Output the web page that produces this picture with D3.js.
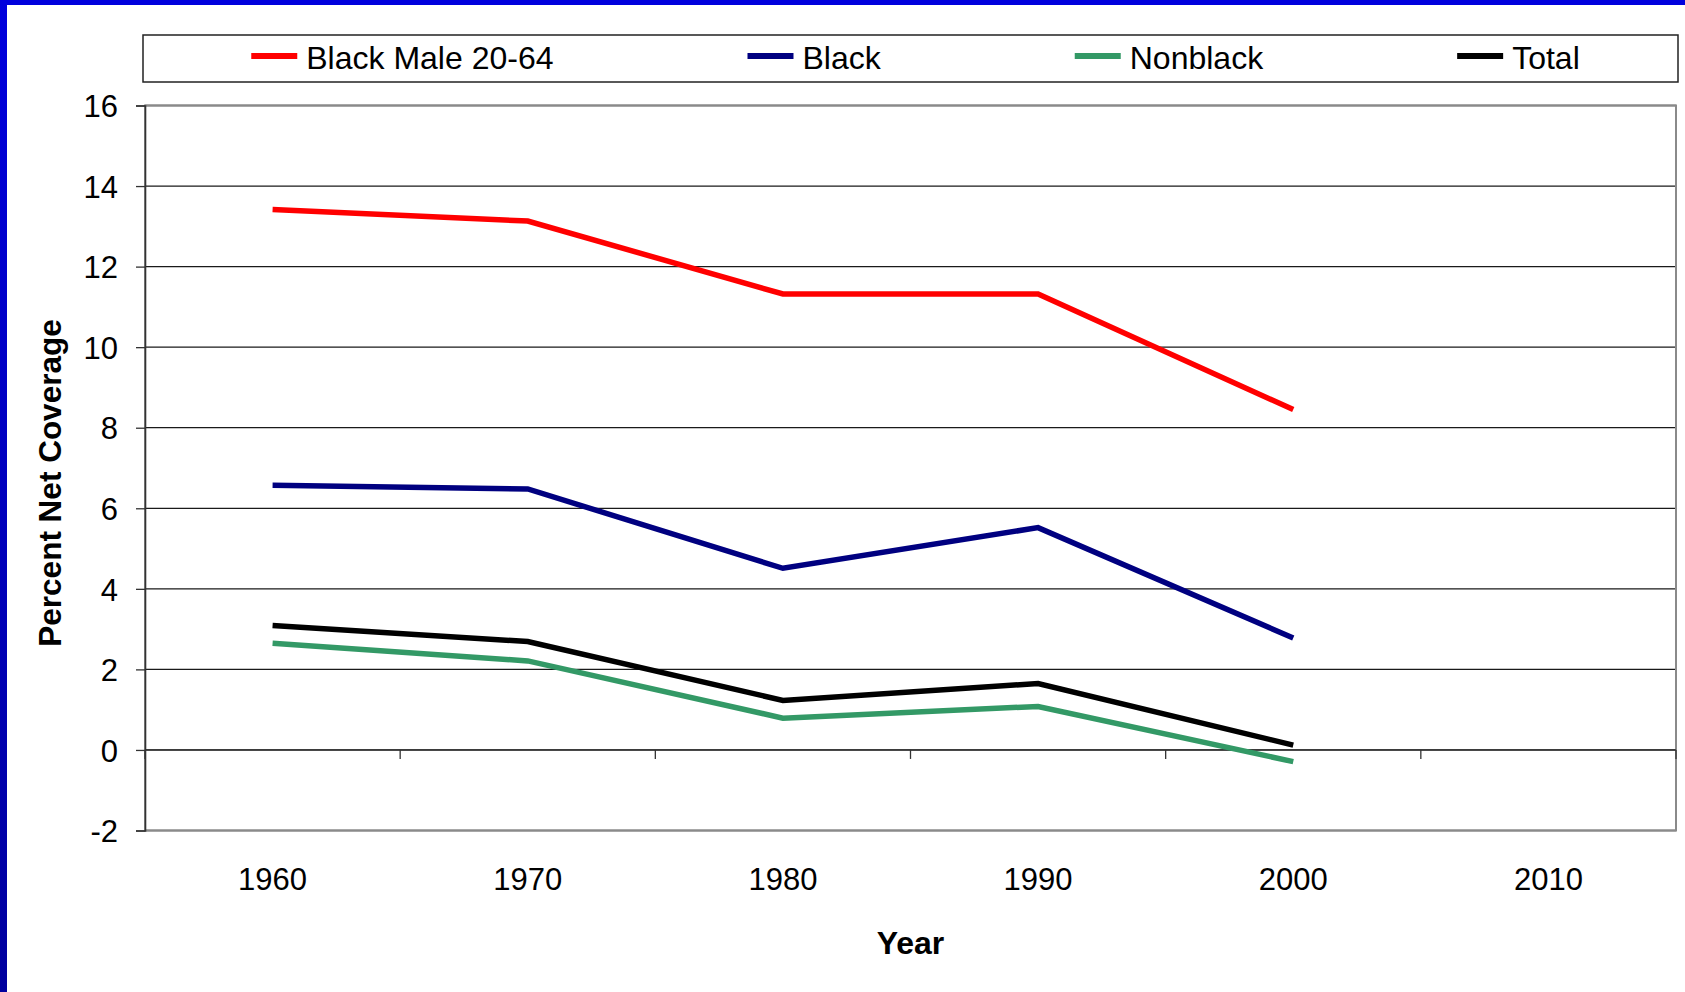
<!DOCTYPE html>
<html>
<head>
  <meta charset="utf-8" />
  <title>Percent Net Coverage</title>
  <style type="text/css">
    body {
      margin: 0;
      background: #fff;
      font-family: 'Liberation Sans', Arial, sans-serif;
    }
    svg { display: block; }
    .tick text { font-family: 'Liberation Sans', Arial, sans-serif; fill: #000; }
  </style>
</head>
<body>

  <div id="chart"></div>

  <script src="https://cdn.jsdelivr.net/npm/d3@7"></script>
  <script>
  // chart data
  var years = ['1960', '1970', '1980', '1990', '2000', '2010'];
  var seriesNames = ['Black Male 20-64', 'Black', 'Nonblack', 'Total'];
  var blackMale = [13.42, 13.13, 11.32, 11.32, 8.45];
  var black = [6.57, 6.48, 4.51, 5.52, 2.78];
  var nonblack = [2.65, 2.21, 0.79, 1.08, -0.29];
  var total = [3.09, 2.69, 1.23, 1.65, 0.12];
  var yTicks = [-2, 0, 2, 4, 6, 8, 10, 12, 14, 16];

  var colors = ['#ff0000', '#000080', '#339966', '#000000'];
  var allSeries = [blackMale, black, nonblack, total];

  var width = 1685, height = 992;
  var margin = {top: 105.5, right: 9, bottom: 161.5, left: 145};
  var plotW = width - margin.left - margin.right;
  var plotH = height - margin.top - margin.bottom;

  var svg = d3.select('#chart').append('svg')
    .attr('width', width)
    .attr('height', height);

  // slide frame (blue bar on top and left)
  var defs = svg.append('defs');
  var grad = defs.append('linearGradient')
    .attr('id', 'sideBlue')
    .attr('x1', 0).attr('y1', 0).attr('x2', 0).attr('y2', 1);
  grad.append('stop').attr('offset', '0%').attr('stop-color', '#0000dd');
  grad.append('stop').attr('offset', '100%').attr('stop-color', '#00009e');

  svg.append('rect').attr('x', 0).attr('y', 0).attr('width', width).attr('height', height).attr('fill', '#fff');
  svg.append('rect').attr('x', 0).attr('y', 0).attr('width', width).attr('height', 5).attr('fill', '#0000dd');
  svg.append('rect').attr('x', 0).attr('y', 0).attr('width', 7).attr('height', height).attr('fill', 'url(#sideBlue)');

  var x = d3.scaleBand().domain(years).range([margin.left, margin.left + plotW]).padding(0);
  var y = d3.scaleLinear().domain([-2, 16]).range([margin.top + plotH, margin.top]);

  // horizontal gridlines
  svg.append('g')
    .selectAll('line')
    .data(yTicks)
    .enter()
    .append('line')
    .attr('x1', margin.left)
    .attr('x2', margin.left + plotW)
    .attr('y1', function (d) { return y(d); })
    .attr('y2', function (d) { return y(d); })
    .attr('stroke', '#1a1a1a')
    .attr('stroke-width', 1.3);

  // plot border
  svg.append('rect')
    .attr('x', margin.left)
    .attr('y', margin.top)
    .attr('width', plotW)
    .attr('height', plotH)
    .attr('fill', 'none')
    .attr('stroke', '#8a8a8a')
    .attr('stroke-width', 2);

  // y axis
  var yAxis = svg.append('g')
    .attr('transform', 'translate(' + margin.left + ',0)')
    .call(d3.axisLeft(y).tickValues(yTicks).tickSize(9).tickPadding(18)
      .tickFormat(function (d) { return String(d); }));
  yAxis.select('.domain').attr('stroke', '#333').attr('stroke-width', 1.6);
  yAxis.selectAll('.tick line').attr('stroke', '#333').attr('stroke-width', 1.3);
  yAxis.selectAll('.tick text').attr('font-size', '31px').attr('dy', '0.36em');

  // x axis on the zero line, ticks between categories
  var boundaries = years.map(function (d) { return x(d); }).concat([x(years[years.length - 1]) + x.bandwidth()]);
  svg.append('line')
    .attr('x1', margin.left).attr('x2', margin.left + plotW)
    .attr('y1', y(0)).attr('y2', y(0))
    .attr('stroke', '#333').attr('stroke-width', 1.6);
  svg.append('g')
    .selectAll('line')
    .data(boundaries)
    .enter()
    .append('line')
    .attr('x1', function (d) { return d; })
    .attr('x2', function (d) { return d; })
    .attr('y1', y(0))
    .attr('y2', y(0) + 9)
    .attr('stroke', '#333')
    .attr('stroke-width', 1.3);

  svg.append('g')
    .selectAll('text')
    .data(years)
    .enter()
    .append('text')
    .attr('x', function (d) { return x(d) + x.bandwidth() / 2; })
    .attr('y', 890)
    .attr('text-anchor', 'middle')
    .attr('font-size', '31px')
    .text(function (d) { return d; });

  // series lines
  var line = d3.line()
    .x(function (d, i) { return x(years[i]) + x.bandwidth() / 2; })
    .y(function (d) { return y(d); });

  svg.append('g')
    .selectAll('path')
    .data(allSeries)
    .enter()
    .append('path')
    .attr('d', line)
    .attr('fill', 'none')
    .attr('stroke', function (d, i) { return colors[i]; })
    .attr('stroke-width', 5.5)
    .attr('stroke-linejoin', 'miter')
    .attr('stroke-linecap', 'butt');

  // axis titles
  svg.append('text')
    .attr('x', margin.left + plotW / 2)
    .attr('y', 954)
    .attr('text-anchor', 'middle')
    .attr('font-size', '32px')
    .attr('font-weight', 'bold')
    .text('Year');

  svg.append('text')
    .attr('transform', 'translate(61,483) rotate(-90)')
    .attr('text-anchor', 'middle')
    .attr('font-size', '31.5px')
    .attr('font-weight', 'bold')
    .text('Percent Net Coverage');

  // legend
  var legendBox = {x: 143, y: 35, w: 1535, h: 47};
  var legend = svg.append('g');
  legend.append('rect')
    .attr('x', legendBox.x).attr('y', legendBox.y)
    .attr('width', legendBox.w).attr('height', legendBox.h)
    .attr('fill', '#fff')
    .attr('stroke', '#222')
    .attr('stroke-width', 1.5);

  var sampleW = 46, sampleGap = 9, entryGap = 194;
  var entries = legend.selectAll('g.entry')
    .data(seriesNames)
    .enter()
    .append('g')
    .attr('class', 'entry');
  entries.append('line')
    .attr('x1', 0).attr('x2', sampleW)
    .attr('y1', 56).attr('y2', 56)
    .attr('stroke', function (d, i) { return colors[i]; })
    .attr('stroke-width', 6);
  entries.append('text')
    .attr('x', sampleW + sampleGap)
    .attr('y', 69)
    .attr('font-size', '32px')
    .text(function (d) { return d; });

  var widths = [];
  entries.each(function () { widths.push(sampleW + sampleGap + d3.select(this).select('text').node().getComputedTextLength()); });
  var totalW = d3.sum(widths) + entryGap * (widths.length - 1);
  var cursor = legendBox.x + (legendBox.w - totalW) / 2 + 5;
  entries.attr('transform', function (d, i) {
    var t = 'translate(' + cursor + ',0)';
    cursor += widths[i] + entryGap;
    return t;
  });
  </script>
</body>
</html>
